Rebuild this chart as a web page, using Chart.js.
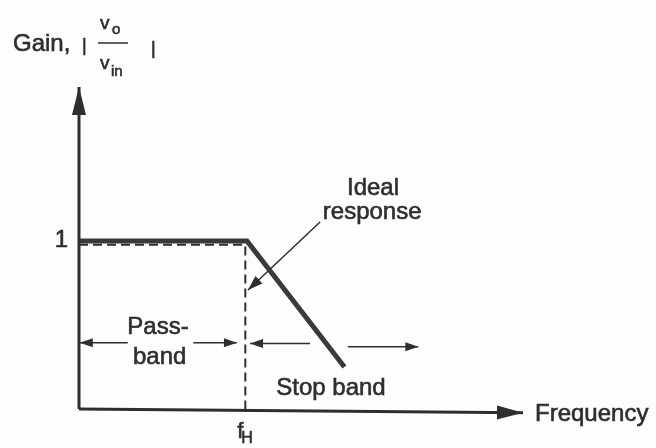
<!DOCTYPE html>
<html>
<head>
<meta charset="utf-8">
<script src="https://cdn.jsdelivr.net/npm/chart.js@4/dist/chart.umd.min.js"></script>
<style>
  html, body { margin: 0; padding: 0; background: #fdfdfd; }
  #wrap { width: 656px; height: 448px; }
</style>
</head>
<body>
<div id="wrap"><canvas id="chart" width="656" height="448"></canvas></div>
<script>
// frequency is in units of f_H, gain is |vo / vin|
const responseFreq = [0, 1.0, 1.58];
const responseGain = [1.0, 1.0, 0.25];

const idealFreq = [0, 0.99, 0.99];
const idealGain = [0.978, 0.978, 0];

const yTickValues = [1];
const yTickLabels = ['1'];
const xTickValues = [0.99];
const xTickLabels = ['f'];
const xTickSubs   = ['H'];

const axisFreqEnd = 2.643;
const axisGainEnd = 1.917;

// band arrows: [from, to] in frequency, arrow head at "to"
const passFreq  = [[0.29, 0.005], [0.68, 0.94]];
const stopFreq  = [[1.375, 1.018], [1.60, 2.02]];
const passGain  = 0.395;
const stopGain  = [0.39, 0.37];

// pointer from the "Ideal response" note to the dashed line
const pointerFreq = [1.435, 1.006];
const pointerGain = [1.113, 0.708];

const INK = '#2e2e2e';
const FONT = '"Liberation Sans", Arial, sans-serif';

function pts(xs, ys) {
    return xs.map((x, i) => ({ x: x, y: ys[i] }));
}

function seg(x0, x1, y0, y1, width, head) {
    return {
        data: [{ x: x0, y: y0 }, { x: x1, y: y1 }],
        borderColor: INK,
        borderWidth: width,
        pointRadius: 0,
        clip: false,
        head: head
    };
}

const datasets = [
    seg(0, 0, 0, axisGainEnd, 3, [28, 7]),
    seg(0, axisFreqEnd, 0, -0.022, 3, [26, 7]),
    {
        data: pts(idealFreq, idealGain),
        borderColor: INK,
        borderWidth: 2,
        borderDash: [9, 5],
        pointRadius: 0,
        clip: false
    },
    {
        data: pts(responseFreq, responseGain),
        borderColor: '#3a3a3a',
        borderWidth: 5,
        borderJoinStyle: 'miter',
        pointRadius: 0,
        clip: false
    },
    seg(pointerFreq[0], pointerFreq[1], pointerGain[0], pointerGain[1], 1.5, [15, 5])
];
passFreq.forEach(p => datasets.push(seg(p[0], p[1], passGain, passGain, 1.5, [13, 4.5])));
stopFreq.forEach((p, i) => datasets.push(seg(p[0], p[1], stopGain[i], stopGain[i], 1.5, [13, 4.5])));

function drawHead(ctx, x0, y0, x1, y1, len, half) {
    const a = Math.atan2(y1 - y0, x1 - x0);
    const c = Math.cos(a), s = Math.sin(a);
    ctx.beginPath();
    ctx.moveTo(x1, y1);
    ctx.lineTo(x1 - len * c + half * s, y1 - len * s - half * c);
    ctx.lineTo(x1 - len * c - half * s, y1 - len * s + half * c);
    ctx.closePath();
    ctx.fill();
}

// scanned print looks a bit heavier than the plain regular weight
function ink(ctx, text, x, y) {
    ctx.fillText(text, x, y);
    ctx.strokeText(text, x, y);
}

const figurePlugin = {
    id: 'figure',
    afterDatasetsDraw(chart) {
        const ctx = chart.ctx;
        const sx = chart.scales.x, sy = chart.scales.y;
        const X = v => sx.getPixelForValue(v);
        const Y = v => sy.getPixelForValue(v);

        ctx.save();
        ctx.fillStyle = INK;
        ctx.strokeStyle = INK;

        chart.data.datasets.forEach((ds, i) => {
            if (!ds.head) return;
            const pts = chart.getDatasetMeta(i).data;
            const a = pts[pts.length - 2], b = pts[pts.length - 1];
            drawHead(ctx, a.x, a.y, b.x, b.y, ds.head[0], ds.head[1]);
        });

        ctx.lineWidth = 0.6;
        ctx.textBaseline = 'middle';
        ctx.font = '24px ' + FONT;

        // tick labels
        ctx.textAlign = 'right';
        yTickValues.forEach((v, i) => ink(ctx, yTickLabels[i], X(0) - 11, Y(v) - 1));
        xTickValues.forEach((v, i) => {
            ctx.textAlign = 'right';
            ctx.font = '22px ' + FONT;
            ink(ctx, xTickLabels[i], X(v) - 2, Y(0) + 23);
            ctx.textAlign = 'left';
            ctx.font = '16px ' + FONT;
            ink(ctx, xTickSubs[i], X(v) - 4, Y(0) + 30);
        });

        // notes
        ctx.font = '24px ' + FONT;
        ctx.textAlign = 'center';
        ink(ctx, 'Ideal', X(1.75), Y(1.315));
        ink(ctx, 'response', X(1.745), Y(1.17));
        ink(ctx, 'Pass-', X(0.47), Y(0.488));
        ink(ctx, 'band', X(0.48), Y(0.305));
        ink(ctx, 'Stop band', X(1.5), Y(0.12));

        ctx.textAlign = 'left';
        ink(ctx, 'Frequency', X(axisFreqEnd) + 12, Y(-0.03));

        // y axis title: Gain, | vo / vin |
        const L = X(0);
        ctx.textBaseline = 'alphabetic';
        ctx.font = '24px ' + FONT;
        ink(ctx, 'Gain,', L - 66, 51);
        ctx.font = '18px ' + FONT;
        ink(ctx, '|', L + 3, 51);
        ink(ctx, '|', L + 72, 54);
        ctx.font = '19px ' + FONT;
        ink(ctx, 'v', L + 21, 29);
        ink(ctx, 'v', L + 21, 69);
        ctx.font = '15px ' + FONT;
        ink(ctx, 'o', L + 33, 34);
        ink(ctx, 'in', L + 32, 76);
        ctx.lineWidth = 1.5;
        ctx.beginPath();
        ctx.moveTo(L + 19, 43);
        ctx.lineTo(L + 49, 43);
        ctx.stroke();

        ctx.restore();
    }
};

new Chart(document.getElementById('chart'), {
    type: 'line',
    data: { datasets: datasets },
    options: {
        responsive: false,
        animation: false,
        layout: { padding: { left: 79, right: 656 - 79 - 168 * 3.4, top: 409 - 168 * 2.3, bottom: 448 - 409 } },
        scales: {
            x: { type: 'linear', display: false, min: 0, max: 3.4 },
            y: { type: 'linear', display: false, min: 0, max: 2.3 }
        },
        plugins: { legend: { display: false }, tooltip: { enabled: false } },
        elements: { point: { radius: 0 }, line: { tension: 0 } }
    },
    plugins: [figurePlugin]
});
</script>
</body>
</html>
